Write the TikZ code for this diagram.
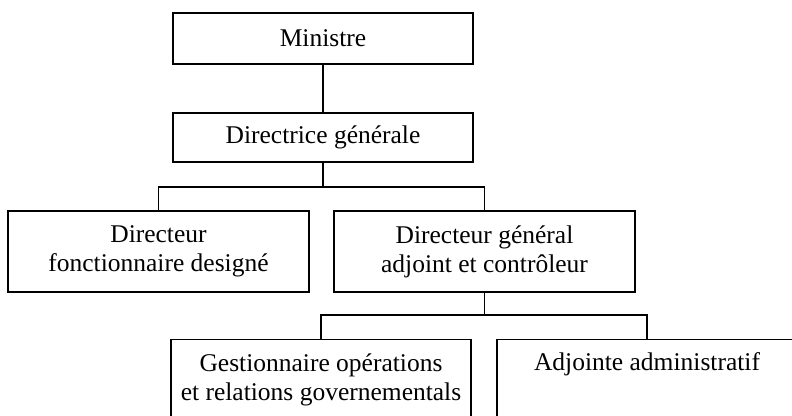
\documentclass[tikz,border=0pt]{standalone}
\usepackage{fontspec}
\setmainfont{Liberation Serif}
\begin{document}
\begin{tikzpicture}[x=1pt, y=-1pt, line width=1.2pt,
	orgbox/.style={draw, minimum width=300pt, inner sep=2pt, align=center, font=\fontsize{25.5}{29}\selectfont}]
	\path[use as bounding box, clip] (0,0) rectangle (792,415);
	\node[orgbox, minimum height=51pt] (min) at (323,38.5) {Ministre};
	\node[orgbox, minimum height=49pt] (dg) at (323,137.5) {Directrice générale};
	\node[orgbox, minimum height=81pt, minimum width=301pt] (dfd) at (158.5,251.5) {Directeur\\fonctionnaire designé};
	\node[orgbox, minimum height=81pt, minimum width=301pt] (dga) at (484.5,251.5) {Directeur général\\adjoint et contrôleur};
	\node[orgbox, minimum height=81pt, anchor=north] (gor) at (321,339) {Gestionnaire opérations\\et relations governementals};
	\node[orgbox, minimum height=81pt, anchor=north] (adj) at (647,339) {Adjointe administratif\\\strut};
	% liens
	\coordinate (fork1) at (323,187);
	\coordinate (fork2) at (484.5,315);
	\draw (min) -- (dg);
	\draw (dg) -- (fork1) -| (dfd);
	\draw (fork1) -| (dga);
	\draw (dga) -- (fork2) -| (gor);
	\draw (fork2) -| (adj);
\end{tikzpicture}
\end{document}
